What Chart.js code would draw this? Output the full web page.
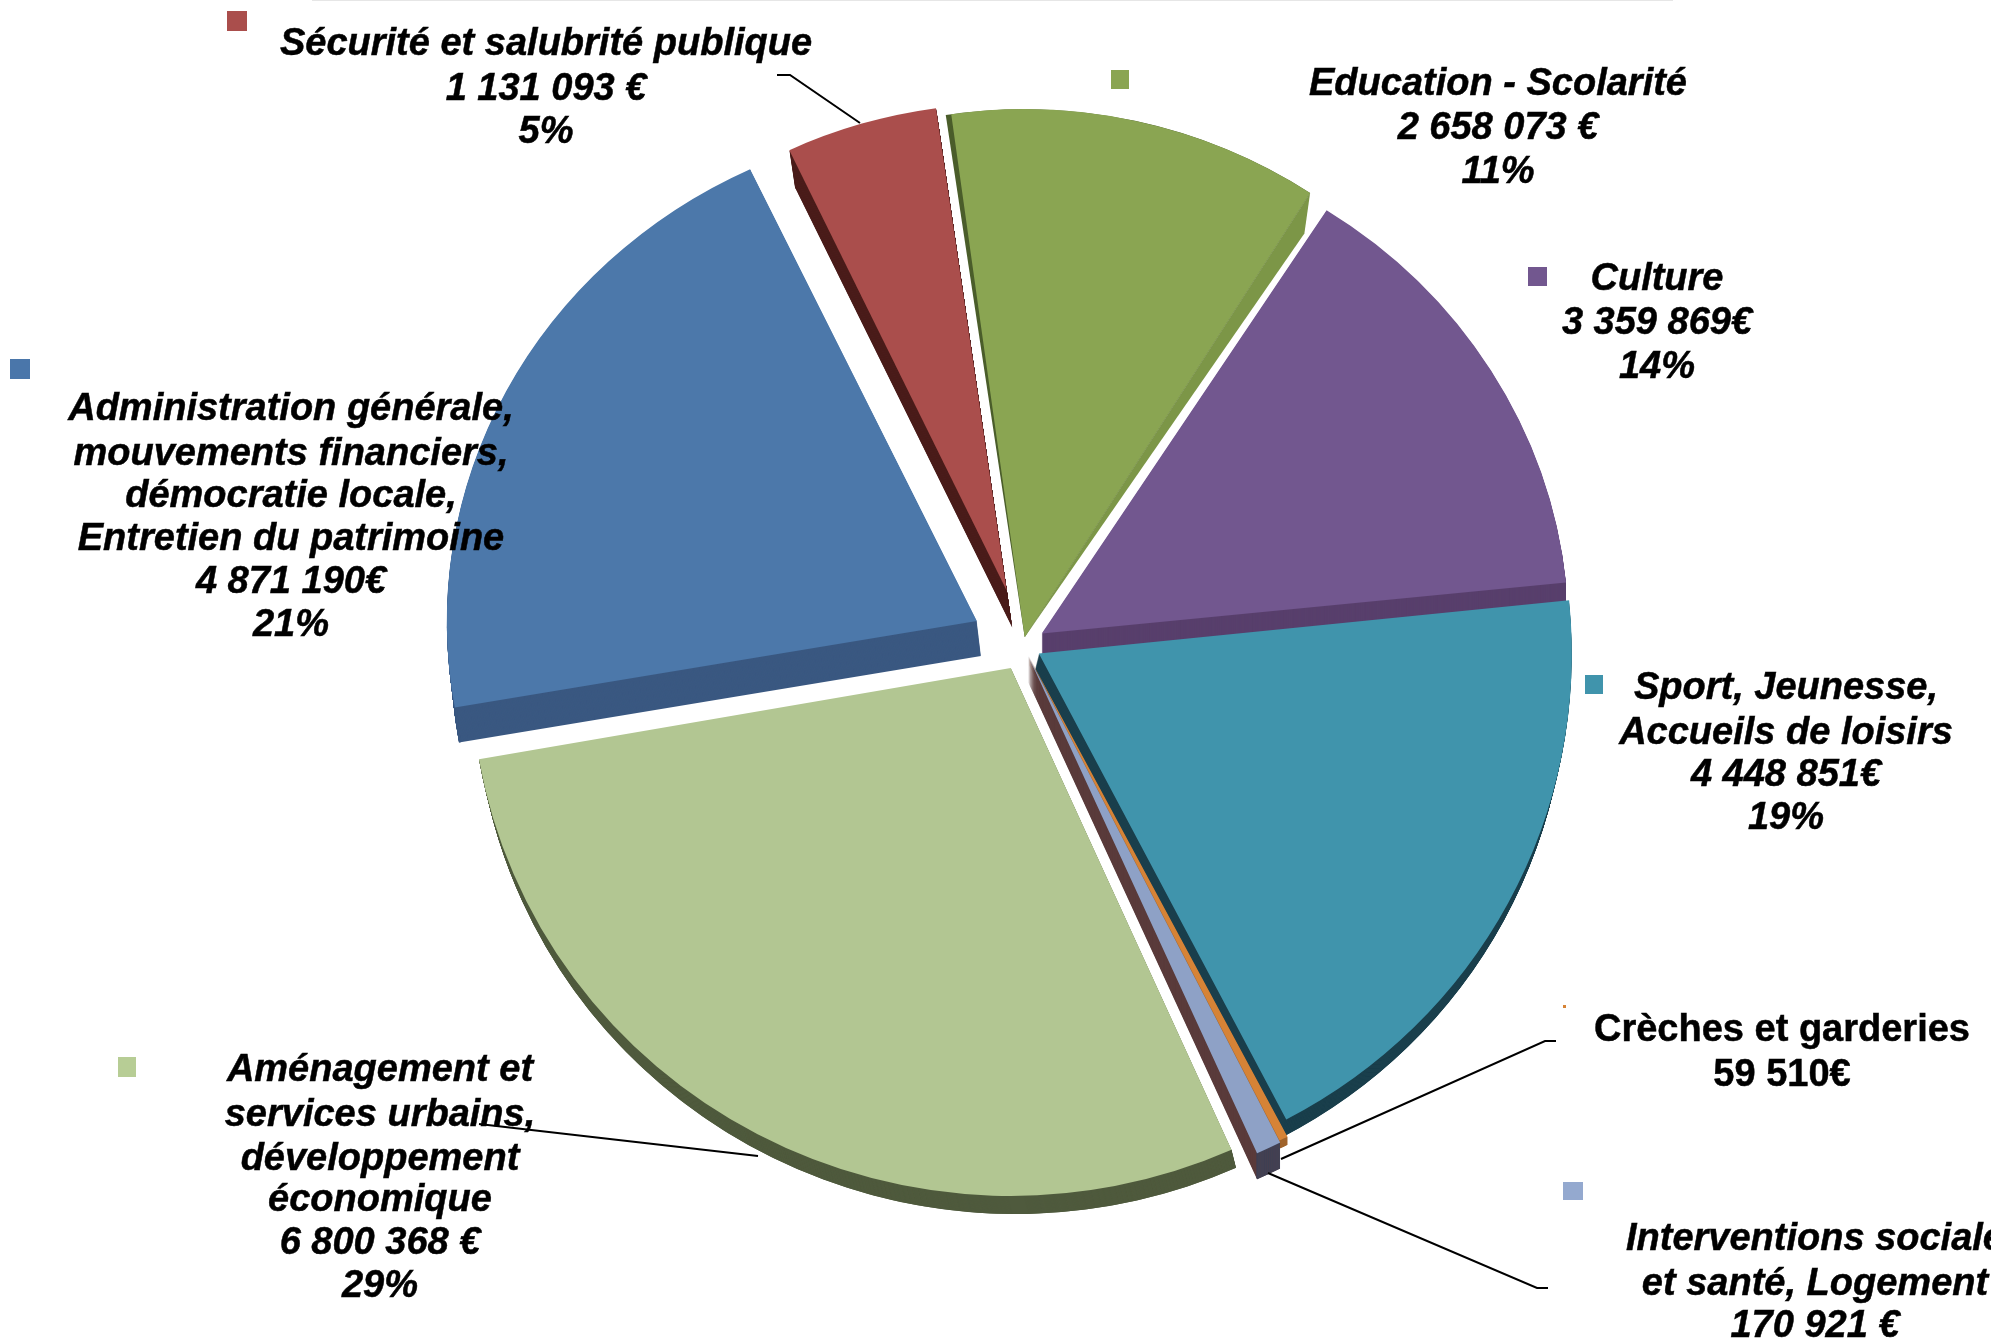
<!DOCTYPE html>
<html lang="fr">
<head>
<meta charset="utf-8">
<title>Répartition des dépenses</title>
<script src="https://cdn.jsdelivr.net/npm/chart.js@4/dist/chart.umd.min.js"></script>
<style>
    html, body { margin: 0; padding: 0; background: #fff; }
    #stage { position: relative; width: 1991px; height: 1338px; overflow: hidden; }
    #pie { position: absolute; left: 0; top: 0; }
    .topLine { position: absolute; left: 312px; top: 0; width: 1361px; height: 1px; background: #e6e6e6; }
    .label {
        position: absolute; width: 700px; margin-left: -350px; text-align: center;
        font: italic bold 38px "Liberation Sans", Arial, sans-serif; color: #000; white-space: nowrap;
        -webkit-text-stroke: 0.5px #000;
    }
    .label div { position: absolute; left: 0; width: 100%; height: 44px; line-height: 44px; margin-top: -22px; }
    .square { position: absolute; }
</style>
</head>
<body>
<div id="stage">
    <div class="topLine"></div>
    <canvas id="pie" width="2000" height="1338"></canvas>
</div>
<script>
const categories = [
    'Education - Scolarité',
    'Culture',
    'Sport, Jeunesse, Accueils de loisirs',
    'Crèches et garderies',
    'Interventions sociale et santé, Logement',
    'Aménagement et services urbains, développement économique',
    'Administration générale, mouvements financiers, démocratie locale, Entretien du patrimoine',
    'Sécurité et salubrité publique',
]
const amounts = [2658073, 3359869, 4448851, 59510, 170921, 6800368, 4871190, 1131093]

const labelLines = [
    ['Education - Scolarité', '2 658 073 €', '11%'],
    ['Culture', '3 359 869€', '14%'],
    ['Sport, Jeunesse,', 'Accueils de loisirs', '4 448 851€', '19%'],
    ['Crèches et garderies', '59 510€'],
    ['Interventions sociale', 'et santé, Logement', '170 921 €'],
    ['Aménagement et', 'services urbains,', 'développement', 'économique', '6 800 368 €', '29%'],
    ['Administration générale,', 'mouvements financiers,', 'démocratie locale,', 'Entretien du patrimoine', '4 871 190€', '21%'],
    ['Sécurité et salubrité publique', '1 131 093 €', '5%'],
]

// slice styles
const faceColors = ['#8aa552', '#72578f', '#4094ac', '#d68336', '#8ea1c6', '#b2c692', '#4c78aa', '#aa4e4c']
const wallColors = ['#7c9647', '#583f6c', '#1a3f4c', '#a0642c', '#5a3b3b', '#4f5a3d', '#3a5881', '#4a1c1a']
const rimColors = ['#7c9647', '#583f6c', '#1a3f4c', '#a0642c', '#3e4258', '#4f5a3d', '#3a5881', '#4a1c1a']
const squareColors = ['#8aa552', '#72578f', '#4094ac', '#d68336', '#94a9cf', '#b7cd95', '#4a76aa', '#aa4e4c']

// how the reference's 3D look is faked: explode distance, wall depth and lean, face radii
const explode = [8, 22, 18, 12, 12, 26, 52, 57]
const wallDepth = [0, 21, 18, 8, 26, 18, 35, 37]
const wallLean = [0, 0, -0.25, 0, 0, 0.25, 0.12, 0.15]
const radiusX = [528, 527, 533, 558, 560, 540, 530, 508]
const radiusY = [528, 503, 526, 543, 545, 528, 500, 487]

// the education slice has no straight wall, its sides widen towards the rim (degrees)
const flareAfter = [2, 0, 0, 0, 0, 0, 0, 0]
const flareBefore = [0.6, 0, 0, 0, 0, 0, 0, 0]
const flareBeforeColors = ['#4a5d2a', null, null, null, null, null, null, null]

// label layout: centre x, y of each line, italic or not
const labelX = [1498, 1657, 1786, 1782, 1815, 380, 291, 546]
const labelY = [
    [82, 126, 170],
    [277, 321, 365],
    [686, 731, 773, 816],
    [1028, 1073],
    [1237, 1282, 1324],
    [1068, 1113, 1157, 1198, 1241, 1284],
    [407, 452, 494, 537, 580, 623],
    [42, 87, 130],
]
const labelItalic = [true, true, true, false, true, true, true, true]

const squareBoxes = [
    [1111, 70, 18, 19], [1528, 267, 19, 19], [1585, 675, 18, 19], [1563, 1005, 3, 3],
    [1563, 1182, 20, 18], [118, 1057, 18, 20], [10, 359, 20, 20], [227, 11, 20, 20],
]

const leaderLines = [
    [[777, 75], [790, 75], [860, 123]],
    [[479, 1124], [758, 1156]],
    [[1281, 1159], [1545, 1041], [1556, 1041]],
    [[1268, 1173], [1537, 1288], [1548, 1288]],
]

const BASE_RADIUS = 534
const DEG = Math.PI / 180

const placeSlice = (ctx, arc, i) => {
    const mid = (arc.startAngle + arc.endAngle) / 2
    ctx.translate(arc.x + Math.cos(mid) * explode[i], arc.y + Math.sin(mid) * explode[i])
    ctx.scale(radiusX[i] / BASE_RADIUS, radiusY[i] / BASE_RADIUS)
    ctx.translate(-arc.x, -arc.y)
}

const fillWedge = (ctx, arc, start, end, color) => {
    ctx.beginPath()
    ctx.moveTo(arc.x, arc.y)
    ctx.arc(arc.x, arc.y, arc.outerRadius, start, end)
    ctx.closePath()
    ctx.fillStyle = color
    ctx.fill()
}

// thin triangle from the slice's tip past its last corner, shorter than the rim
const fillFlare = (ctx, arc, i) => {
    const tipRadius = arc.outerRadius * 0.93
    const tipAngle = arc.endAngle + flareAfter[i] * DEG
    ctx.beginPath()
    ctx.moveTo(arc.x, arc.y)
    ctx.lineTo(arc.x + Math.cos(arc.endAngle) * arc.outerRadius, arc.y + Math.sin(arc.endAngle) * arc.outerRadius)
    ctx.lineTo(arc.x + Math.cos(tipAngle) * tipRadius, arc.y + Math.sin(tipAngle) * tipRadius)
    ctx.closePath()
    ctx.fillStyle = wallColors[i]
    ctx.fill()
}

const drawWall = (ctx, arc, i) => {
    for (let d = wallDepth[i]; d > 0; d--) {
        ctx.save()
        ctx.translate(d * wallLean[i], d)
        placeSlice(ctx, arc, i)
        fillWedge(ctx, arc, arc.startAngle, arc.endAngle, wallColors[i])
        ctx.beginPath()
        ctx.arc(arc.x, arc.y, arc.outerRadius - 1, arc.startAngle, arc.endAngle)
        ctx.strokeStyle = rimColors[i]
        ctx.lineWidth = 2
        ctx.stroke()
        ctx.restore()
    }
    ctx.save()
    placeSlice(ctx, arc, i)
    if (flareAfter[i]) fillFlare(ctx, arc, i)
    if (flareBefore[i]) fillWedge(ctx, arc, arc.startAngle - flareBefore[i] * DEG, arc.endAngle, flareBeforeColors[i])
    ctx.restore()
}

const explodedSlices = {
    id: 'explodedSlices',
    beforeDatasetDraw(chart) {
        const ctx = chart.ctx
        const arcs = chart.getDatasetMeta(0).data
        arcs.forEach((arc, i) => drawWall(ctx, arc, i))
        arcs.forEach((arc, i) => {
            ctx.save()
            placeSlice(ctx, arc, i)
            arc.draw(ctx)
            ctx.restore()
        })
        return false
    },
}

const leaders = {
    id: 'leaders',
    afterDraw(chart) {
        const ctx = chart.ctx
        ctx.save()
        ctx.strokeStyle = '#000'
        ctx.lineWidth = 2
        leaderLines.forEach(points => {
            ctx.beginPath()
            points.forEach(([x, y], i) => (i ? ctx.lineTo(x, y) : ctx.moveTo(x, y)))
            ctx.stroke()
        })
        ctx.restore()
    },
}

new Chart(document.getElementById('pie').getContext('2d'), {
    type: 'pie',
    data: {
        labels: categories,
        datasets: [{
            data: amounts,
            backgroundColor: faceColors,
            borderWidth: 0,
        }],
    },
    options: {
        responsive: false,
        animation: false,
        rotation: -8,
        radius: BASE_RADIUS,
        layout: { padding: { left: 46, bottom: 48 } },
        plugins: { legend: { display: false }, tooltip: { enabled: false } },
    },
    plugins: [explodedSlices, leaders],
})

const stage = document.getElementById('stage')
labelLines.forEach((lines, i) => {
    const box = document.createElement('div')
    box.className = 'label'
    box.style.left = labelX[i] + 'px'
    box.style.top = '0'
    box.style.fontStyle = labelItalic[i] ? 'italic' : 'normal'
    lines.forEach((line, j) => {
        const row = document.createElement('div')
        row.textContent = line
        row.style.top = labelY[i][j] + 'px'
        box.appendChild(row)
    })
    stage.appendChild(box)

    const [x, y, w, h] = squareBoxes[i]
    const square = document.createElement('div')
    square.className = 'square'
    square.style.cssText = `left:${x}px;top:${y}px;width:${w}px;height:${h}px;background:${squareColors[i]}`
    stage.appendChild(square)
})
</script>
</body>
</html>
